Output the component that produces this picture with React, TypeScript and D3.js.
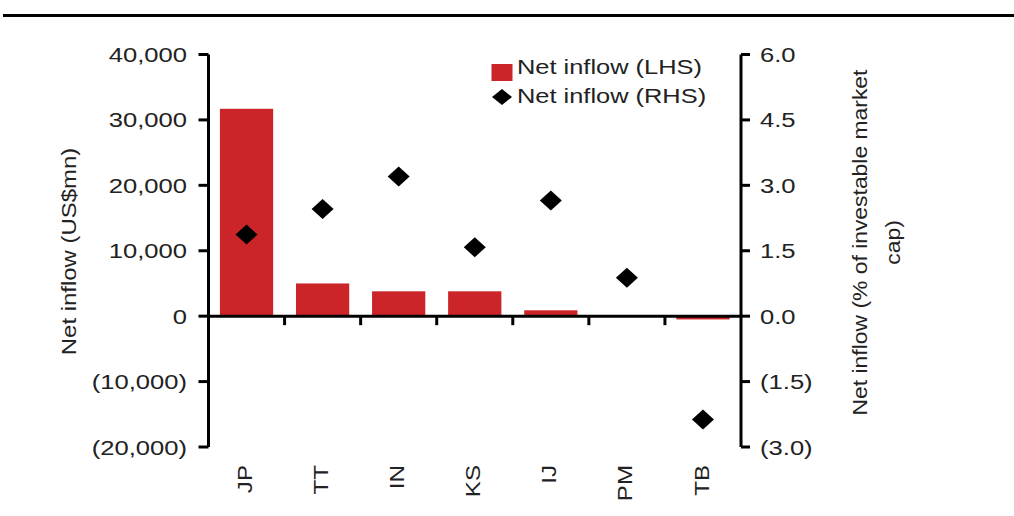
import React from "react";
import * as d3 from "d3";

const categories = ["JP", "TT", "IN", "KS", "IJ", "PM", "TB"];
const lhsValues = [31700, 5000, 3800, 3800, 900, 50, -500];
const rhsValues = [1.87, 2.46, 3.2, 1.58, 2.65, 0.88, -2.37];
const lhsTicks = [40000, 30000, 20000, 10000, 0, -10000, -20000];
const rhsTicks = [6, 4.5, 3, 1.5, 0, -1.5, -3];

const W = 1014;
const H = 516;
const FONT = "'Liberation Sans', Arial, sans-serif";
const TEXT = "#222";
const RED = "#CC2529";
const SX = 1.22;

const fmtL = (v: number) => {
  const s = d3.format(",")(Math.abs(v));
  return v < 0 ? `(${s})` : s;
};
const fmtR = (v: number) => {
  const s = d3.format(".1f")(Math.abs(v));
  return v < 0 ? `(${s})` : s;
};

const diamondPath = (w: number, h: number) => {
  const p = d3.path();
  p.moveTo(0, -h / 2);
  p.lineTo(w / 2, 0);
  p.lineTo(0, h / 2);
  p.lineTo(-w / 2, 0);
  p.closePath();
  return p.toString();
};

export default function App() {
  const left = 208.5;
  const right = 741;
  const top = 54.5;
  const bottom = 447;
  const x = d3.scaleBand<string>().domain(categories).range([left, right]).paddingInner(0.3).paddingOuter(0.15);
  const xb = d3.scaleBand<string>().domain(categories).range([left, right]);
  const yL = d3.scaleLinear().domain([-20000, 40000]).range([bottom, top]);
  const yR = d3.scaleLinear().domain([-3, 6]).range([bottom, top]);
  const y0 = yL(0);
  const diamond = diamondPath(22, 20);
  const legDiamond = diamondPath(20, 16);
  const fs = 21;

  return (
    <svg width={W} height={H} style={{ position: "absolute", left: 0, top: 0, background: "#fff" }} fontFamily={FONT}>
      <line x1={3} x2={W} y1={15.5} y2={15.5} stroke="#000" strokeWidth={3} />

      {/* bars */}
      {categories.map((c, i) => {
        const v = lhsValues[i];
        const y1 = yL(Math.max(0, v));
        const y2 = yL(Math.min(0, v));
        return <rect key={c} x={x(c)} y={y1} width={x.bandwidth()} height={Math.max(0.5, y2 - y1)} fill={RED} />;
      })}

      {/* left axis */}
      <line x1={left} x2={left} y1={top} y2={bottom} stroke="#000" strokeWidth={3} />
      {lhsTicks.map((t) => (
        <g key={t}>
          <line x1={left - 10} x2={left} y1={yL(t)} y2={yL(t)} stroke="#000" strokeWidth={3} />
          <text transform={`translate(187,${yL(t)}) scale(${SX},1)`} dy="0.36em" textAnchor="end" fontSize={fs} fill={TEXT}>
            {fmtL(t)}
          </text>
        </g>
      ))}

      {/* right axis */}
      <line x1={right} x2={right} y1={top} y2={bottom} stroke="#000" strokeWidth={3} />
      {rhsTicks.map((t) => (
        <g key={t}>
          <line x1={right} x2={right + 9} y1={yR(t)} y2={yR(t)} stroke="#000" strokeWidth={3} />
          <text transform={`translate(760,${yR(t)}) scale(${SX},1)`} dy="0.36em" textAnchor="start" fontSize={fs} fill={TEXT}>
            {fmtR(t)}
          </text>
        </g>
      ))}

      {/* zero line + category ticks */}
      <line x1={left} x2={right} y1={y0} y2={y0} stroke="#000" strokeWidth={3} />
      {categories.slice(0, -1).map((c) => {
        const bx = (xb(c) as number) + xb.bandwidth();
        return <line key={c} x1={bx} x2={bx} y1={y0} y2={y0 + 9} stroke="#000" strokeWidth={3} />;
      })}

      {/* diamonds */}
      {categories.map((c, i) => (
        <path
          key={c}
          d={diamond}
          transform={`translate(${(xb(c) as number) + xb.bandwidth() / 2},${yR(rhsValues[i])})`}
          fill="#000"
        />
      ))}

      {/* category labels */}
      {categories.map((c) => {
        const cx = (xb(c) as number) + xb.bandwidth() / 2;
        return (
          <text
            key={c}
            transform={`translate(${cx - 2},465) rotate(-90) scale(1.15,1)`}
            textAnchor="end"
            dy="0.36em"
            fontSize={fs}
            fill={TEXT}
          >
            {c}
          </text>
        );
      })}

      {/* axis titles */}
      <text transform={`translate(68,251.5) rotate(-90) scale(1.14,1)`} textAnchor="middle" dy="0.36em" fontSize={fs} fill={TEXT}>
        Net inflow (US$mn)
      </text>
      <text transform={`translate(859,242.5) rotate(-90) scale(1.09,1)`} textAnchor="middle" dy="0.36em" fontSize={fs} fill={TEXT}>
        Net inflow (% of investable market
      </text>
      <text transform={`translate(892,242.5) rotate(-90) scale(1.09,1)`} textAnchor="middle" dy="0.36em" fontSize={fs} fill={TEXT}>
        cap)
      </text>

      {/* legend */}
      <rect x={491.5} y={64} width={21} height={17} fill={RED} />
      <text transform={`translate(517,66.5) scale(1.21,1)`} dy="0.36em" fontSize={fs} fill={TEXT}>
        Net inflow (LHS)
      </text>
      <path d={legDiamond} transform="translate(502,97)" fill="#000" />
      <text transform={`translate(517,95) scale(1.21,1)`} dy="0.36em" fontSize={fs} fill={TEXT}>
        Net inflow (RHS)
      </text>
    </svg>
  );
}
